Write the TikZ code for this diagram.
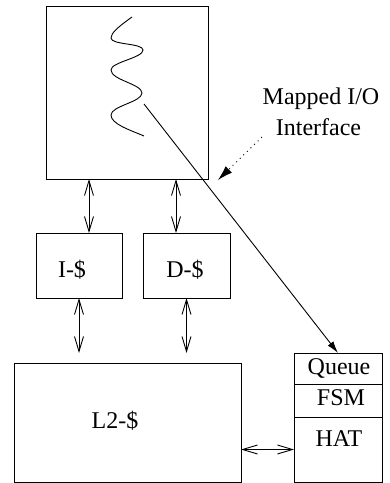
\documentclass[tikz,border=0pt]{standalone}
\usepackage{fontspec}
\setmainfont{Liberation Serif}
\usetikzlibrary{arrows.meta}
\begin{document}
\begin{tikzpicture}[x=1pt,y=-1pt,line width=0.9pt,
  box/.style={draw,rectangle,inner sep=0pt,outer sep=0pt},
  lbl/.style={anchor=base,inner sep=0pt,font=\fontsize{24}{28}\selectfont},
  dbl/.style={{Straight Barb[length=15pt,width=9pt]}-{Straight Barb[length=15pt,width=9pt]}},
  solidarrow/.style={-{Latex[length=12pt,width=7pt]}},
  dotarrow/.style={-{Latex[length=15pt,width=9pt]},dash pattern=on 1pt off 4pt}]
\useasboundingbox (0,0) rectangle (390,483);
% boxes
\node[box,minimum width=162pt,minimum height=173pt] (cpu) at (127,92.5) {};
\node[box,minimum width=86pt,minimum height=65pt] (icache) at (79,265.5) {};
\node[box,minimum width=87pt,minimum height=65pt] (dcache) at (186.5,265.5) {};
\node[box,minimum width=227pt,minimum height=119pt] (l2) at (127.5,422.5) {};
\node[box,minimum width=88pt,minimum height=31pt] (queue) at (338,368.5) {};
\node[box,minimum width=88pt,minimum height=33pt] (fsm) at (338,400.5) {};
\node[box,minimum width=88pt,minimum height=65pt] (hat) at (338,449.5) {};
% labels
\node[lbl] (tI) at (72,277) {I-\$};
\node[lbl] (tD) at (185,277) {D-\$};
\node[lbl] (tL2) at (115,428) {L2-\$};
\node[lbl] (tQ) at (339,374) {Queue};
\node[lbl] (tF) at (341,405) {FSM};
\node[lbl] (tH) at (339,446) {HAT};
\node[lbl] (tM) at (321,104) {Mapped I/O};
\node[lbl] (tIf) at (318.5,135) {Interface};
% wavy thread
\draw (132,17) .. controls (118,27) and (111,33) .. (111,38)
  .. controls (111,45) and (143,43) .. (143,50)
  .. controls (143,58) and (111,62) .. (111,70)
  .. controls (111,80) and (142,84) .. (142,93)
  .. controls (142,102) and (111,106) .. (111,115)
  .. controls (111,124) and (130,130) .. (144,136);
% connectors
\draw[dbl] ([xshift=10pt]icache.north |- cpu.south) -- ([xshift=10pt]icache.north);
\draw[dbl] ([xshift=-10.5pt]dcache.north |- cpu.south) -- ([xshift=-10.5pt]dcache.north);
\draw[dbl] (icache.south) -- ([yshift=10pt]icache.south |- l2.north);
\draw[dbl] (dcache.south) -- ([yshift=10pt]dcache.south |- l2.north);
\draw[dbl] (hat.west -| l2.east) -- (hat.west);
\coordinate (ws) at (144,104);
\draw[solidarrow] (ws) -- (queue.north);
\coordinate (d1) at (262,137);
\coordinate (d2) at (218,180);
\draw[dotarrow] (d1) -- (d2);
\end{tikzpicture}
\end{document}
